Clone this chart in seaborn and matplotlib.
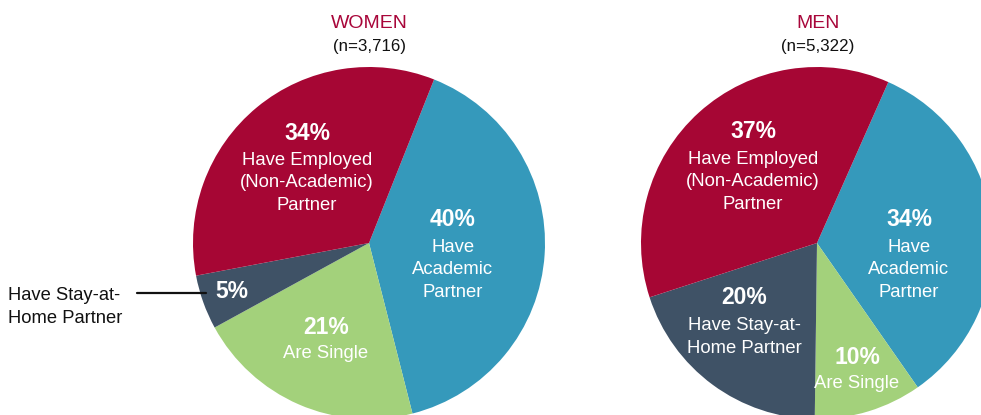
import matplotlib
matplotlib.use("Agg")
import matplotlib.pyplot as plt
import seaborn as sns

sns.set_theme(style="white")
plt.rcParams['font.family'] = ['Liberation Sans', 'DejaVu Sans']

# ---- data ----
categories = ["Have Academic Partner", "Are Single", "Have Stay-at-Home Partner",
              "Have Employed (Non-Academic) Partner"]
women_values = [40, 21, 5, 34]
men_values = [34, 10, 20, 37]
women_title = "WOMEN"
women_n = "(n=3,716)"
men_title = "MEN"
men_n = "(n=5,322)"
women_labels = ["Have\nAcademic\nPartner", "Are Single", "", "Have Employed\n(Non-Academic)\nPartner"]
men_labels = ["Have\nAcademic\nPartner", "Are Single", "Have Stay-at-\nHome Partner",
              "Have Employed\n(Non-Academic)\nPartner"]
outside_label = "Have Stay-at-\nHome Partner"

# ---- style / layout ----
colors = sns.color_palette(["#3599BB", "#A3D17B", "#3F5266", "#A60634"])
title_color = "#A8063A"
W, H = 981, 415
R = 176
women_center = (369, H - 243)
men_center = (817, H - 243)
women_start, men_start = 68.3, 66.1
# (pct x, pct y, label y) in pixel coords measured from top
women_text_pos = [(453, 220, 270), (326, 327, 354), (232, 292, None), (307, 133, 183)]
men_text_pos = [(909, 220, 270), (857, 357, 383), (744, 298, 337), (753, 132, 182)]

fig = plt.figure(figsize=(W / 100, H / 100), dpi=100)
ax = fig.add_axes([0, 0, 1, 1])

for vals, center, start in [(women_values, women_center, women_start),
                            (men_values, men_center, men_start)]:
    ax.pie(vals, colors=colors, startangle=start, counterclock=False,
           center=center, radius=R, wedgeprops=dict(linewidth=0))

ax.set_xlim(0, W)
ax.set_ylim(0, H)
ax.set_aspect('equal')
ax.axis('off')

for vals, labels, pos in [(women_values, women_labels, women_text_pos),
                          (men_values, men_labels, men_text_pos)]:
    for v, lab, (x, py, ly) in zip(vals, labels, pos):
        ax.text(x, H - py, f"{v}%", color="white", fontsize=16.5, fontweight="bold",
                ha="center", va="center")
        if lab and ly is not None:
            ax.text(x, H - ly, lab, color="white", fontsize=13.3, ha="center",
                    va="center", linespacing=1.42)

# titles
ax.text(women_center[0], H - 24, women_title, color=title_color, fontsize=14,
        ha="center", va="center")
ax.text(women_center[0], H - 46, women_n, color="#111111", fontsize=12.2,
        ha="center", va="center")
ax.text(818, H - 24, men_title, color=title_color, fontsize=14,
        ha="center", va="center")
ax.text(818, H - 46, men_n, color="#111111", fontsize=12.2,
        ha="center", va="center")

# outside callout
ax.text(8, H - 307, outside_label, color="#111111", fontsize=13.2, ha="left",
        va="center", linespacing=1.4)
ax.plot([137, 206], [H - 293, H - 293], color="#111111", lw=1.6)

fig.savefig("out.png", dpi=100)
